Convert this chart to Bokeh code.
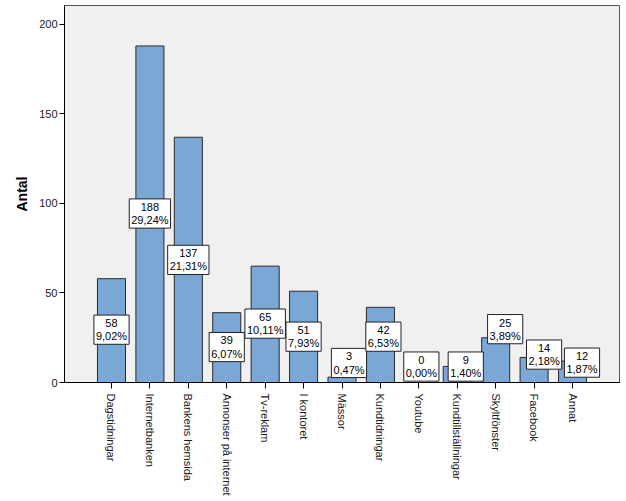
from bokeh.plotting import figure
from bokeh.models import Range1d, FixedTicker, ColumnDataSource
from bokeh.core.properties import value
from bokeh.embed import file_html
from bokeh.resources import INLINE

categories = ["Dagstidningar", "Internetbanken", "Bankens hemsida", "Annonser på internet",
              "Tv-reklam", "I kontoret", "Mässor", "Kundtidningar", "Youtube",
              "Kundtillställningar", "Skyltfönster", "Facebook", "Annat"]
counts = [58, 188, 137, 39, 65, 51, 3, 42, 0, 9, 25, 14, 12]
percents = ["9,02%", "29,24%", "21,31%", "6,07%", "10,11%", "7,93%", "0,47%",
            "6,53%", "0,00%", "1,40%", "3,89%", "2,18%", "1,87%"]
y_ticks = [0, 50, 100, 150, 200]

# label anchor heights (data units) and horizontal nudges (px), as placed in the reference
label_y = [29.5, 94.4, 68.5, 19.8, 32.9, 25.6, 10.9, 25.6, 8.9, 8.9, 29.8, 15.6, 11.1]
label_dx = [0, 0, 0, 0, 0, 0, 7, 3, 2.5, 8.5, 9.5, 10, 9.5]

FONT = "Liberation Sans"
n = len(categories)
xs = list(range(n))
pad = 1.223

p = figure(width=626, height=501, output_backend="svg", toolbar_location=None,
           x_range=Range1d(-pad, n - 1 + pad),
           y_range=Range1d(0, 210.6),
           min_border_left=64, min_border_right=7, min_border_top=5, min_border_bottom=119)

p.background_fill_color = "#f0f0f0"
p.border_fill_color = "white"
p.outline_line_color = "#555555"
p.outline_line_width = 1
p.xgrid.visible = False
p.ygrid.visible = False

src = ColumnDataSource(dict(x=xs, cnt=counts,
                            lab=[f"{c}\n{q}" for c, q in zip(counts, percents)],
                            ly=label_y, dx=label_dx))

p.vbar(x="x", top="cnt", width=0.73, bottom=0, source=src,
       fill_color="#7aa7d6", line_color="#2a2a2a", line_width=1)

p.text(x="x", y="ly", text="lab", source=src, x_offset="dx",
       text_font=value(FONT), text_font_size="11px", text_color="black",
       text_align="center", text_baseline="middle", text_line_height=1.1,
       background_fill_color="white", border_line_color="#222222", border_line_width=1,
       padding=2)

# y axis
ya = p.yaxis[0]
ya.ticker = FixedTicker(ticks=y_ticks)
ya.minor_tick_line_color = None
ya.major_tick_in = 0
ya.major_tick_out = 5
ya.axis_line_color = "black"
ya.major_tick_line_color = "black"
ya.major_label_text_font = FONT
ya.major_label_text_font_size = "11px"
ya.major_label_text_color = "#1a1a1a"
ya.major_label_standoff = 2
ya.axis_label = "Antal"
ya.axis_label_text_font = FONT
ya.axis_label_text_font_size = "14px"
ya.axis_label_text_font_style = "bold"
ya.axis_label_text_color = "black"
ya.axis_label_standoff = 6

# x axis
xa = p.xaxis[0]
xa.ticker = FixedTicker(ticks=xs)
xa.major_label_overrides = {i: c for i, c in zip(xs, categories)}
xa.minor_tick_line_color = None
xa.major_label_orientation = -1.5707963267948966
xa.major_tick_in = 0
xa.major_tick_out = 6
xa.axis_line_color = "black"
xa.major_tick_line_color = "black"
xa.major_label_text_font = FONT
xa.major_label_text_font_size = "11px"
xa.major_label_text_color = "#1a1a1a"
xa.major_label_standoff = 5

open("out.html", "w").write(file_html(p, INLINE))
